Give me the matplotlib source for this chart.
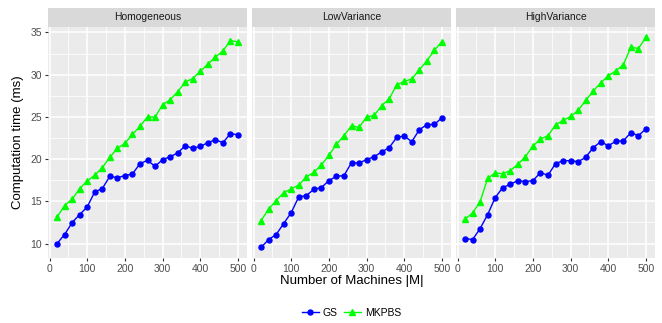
import matplotlib
matplotlib.use("Agg")
import matplotlib.pyplot as plt
from matplotlib.lines import Line2D

plt.rcParams['font.family'] = ['Liberation Sans', 'DejaVu Sans']

machines = list(range(20, 501, 20))
panels = ["Homogeneous", "LowVariance", "HighVariance"]

gs_homogeneous = [10.0, 11.06, 12.48, 13.43, 14.33, 16.11, 16.5, 17.96, 17.8, 18.04,
                  18.23, 19.46, 19.85, 19.14, 19.93, 20.28, 20.72, 21.58, 21.27, 21.5,
                  21.94, 22.29, 21.94, 23.0, 22.88]
mkpbs_homogeneous = [13.15, 14.49, 15.24, 16.5, 17.41, 18.08, 18.98, 20.2, 21.27, 21.86,
                     22.92, 23.87, 25.01, 24.97, 26.43, 27.02, 27.97, 29.11, 29.54, 30.37,
                     31.24, 32.06, 32.81, 34.03, 33.88]
gs_lowvar = [9.53, 10.47, 11.06, 12.36, 13.66, 15.52, 15.67, 16.42, 16.62, 17.45,
             17.96, 18.04, 19.57, 19.54, 19.93, 20.28, 20.84, 21.35, 22.57, 22.73,
             22.06, 23.48, 24.07, 24.11, 24.89]
mkpbs_lowvar = [12.72, 14.06, 15.08, 16.03, 16.46, 16.93, 17.88, 18.43, 19.3, 20.44,
                21.74, 22.77, 23.95, 23.75, 24.97, 25.17, 26.31, 27.14, 28.79, 29.19,
                29.5, 30.57, 31.63, 32.89, 33.92]
gs_highvar = [10.59, 10.47, 11.77, 13.43, 15.44, 16.62, 17.01, 17.45, 17.33, 17.45,
              18.39, 18.08, 19.46, 19.81, 19.81, 19.69, 20.2, 21.35, 22.06, 21.58,
              22.1, 22.17, 23.12, 22.77, 23.59]
mkpbs_highvar = [12.88, 13.62, 14.96, 17.72, 18.35, 18.27, 18.63, 19.38, 20.28, 21.54,
                 22.37, 22.77, 24.03, 24.58, 25.05, 25.76, 26.94, 28.05, 29.03, 29.86,
                 30.45, 31.16, 33.25, 33.09, 34.43]

gs_series = [gs_homogeneous, gs_lowvar, gs_highvar]
mkpbs_series = [mkpbs_homogeneous, mkpbs_lowvar, mkpbs_highvar]

x_ticks = [0, 100, 200, 300, 400, 500]
y_ticks = [10, 15, 20, 25, 30, 35]

W, H = 662, 323
fig = plt.figure(figsize=(W / 100, H / 100), dpi=100)

left, right = 48, 655
gap = 5
pw = (right - left - 2 * gap) / 3
top, bottom = 26.7, 258
strip_top = 8

allv = gs_homogeneous + mkpbs_homogeneous + gs_lowvar + mkpbs_lowvar + gs_highvar + mkpbs_highvar
ymin, ymax = min(allv), max(allv)
yr = ymax - ymin
xr = 500 - 20

ms_c, ms_t, lw = 3.6, 4.4, 1.0

for i, name in enumerate(panels):
    x0 = left + i * (pw + gap)
    ax = fig.add_axes([x0 / W, 1 - bottom / H, pw / W, (bottom - top) / H])
    ax.set_facecolor('#EBEBEB')
    for s in ax.spines.values():
        s.set_visible(False)
    ax.set_xlim(20 - 0.05 * xr, 500 + 0.05 * xr)
    ax.set_ylim(ymin - 0.05 * yr, ymax + 0.05 * yr)
    ax.set_xticks(x_ticks)
    ax.set_xticks([50, 150, 250, 350, 450], minor=True)
    ax.set_yticks(y_ticks)
    ax.set_yticks([12.5, 17.5, 22.5, 27.5, 32.5], minor=True)
    ax.grid(True, which='major', color='white', linewidth=1.1)
    ax.grid(True, which='minor', color='white', linewidth=0.55)
    ax.set_axisbelow(True)
    ax.tick_params(which='minor', length=0)
    ax.tick_params(which='major', length=2.5, width=0.8, color='#333333',
                   labelsize=7.5, labelcolor='#4D4D4D', pad=2)
    if i > 0:
        ax.tick_params(axis='y', which='both', left=False, labelleft=False)
    ax.plot(machines, gs_series[i], color='#0000FF', marker='o', markersize=ms_c,
            linewidth=lw)
    ax.plot(machines, mkpbs_series[i], color='#00FF00', marker='^', markersize=ms_t,
            linewidth=lw)
    # strip
    sax = fig.add_axes([x0 / W, 1 - top / H, pw / W, (top - strip_top) / H])
    sax.set_facecolor('#D9D9D9')
    sax.set_xticks([])
    sax.set_yticks([])
    for s in sax.spines.values():
        s.set_visible(False)
    sax.text(0.5, 0.5, name, ha='center', va='center', fontsize=7.5,
             color='#1A1A1A', transform=sax.transAxes)

fig.text(left / W + (right - left) / W / 2, 1 - 281 / H, 'Number of Machines |M|',
         ha='center', va='center', fontsize=9.5, color='black')
fig.text(18 / W, 1 - (top + bottom) / 2 / H, 'Computation time (ms)',
         ha='center', va='center', rotation=90, fontsize=9.5, color='black')

handles = [Line2D([], [], color='#0000FF', marker='o', markersize=ms_c, linewidth=lw),
           Line2D([], [], color='#00FF00', marker='^', markersize=ms_t, linewidth=lw)]
leg = fig.legend(handles, ['GS', 'MKPBS'], loc='center', ncol=2,
                 bbox_to_anchor=(left / W + (right - left) / W / 2, 1 - 313 / H),
                 frameon=False, fontsize=7.5, handlelength=1.6, handletextpad=0.4,
                 columnspacing=0.6)

fig.savefig('out.png', dpi=100)
